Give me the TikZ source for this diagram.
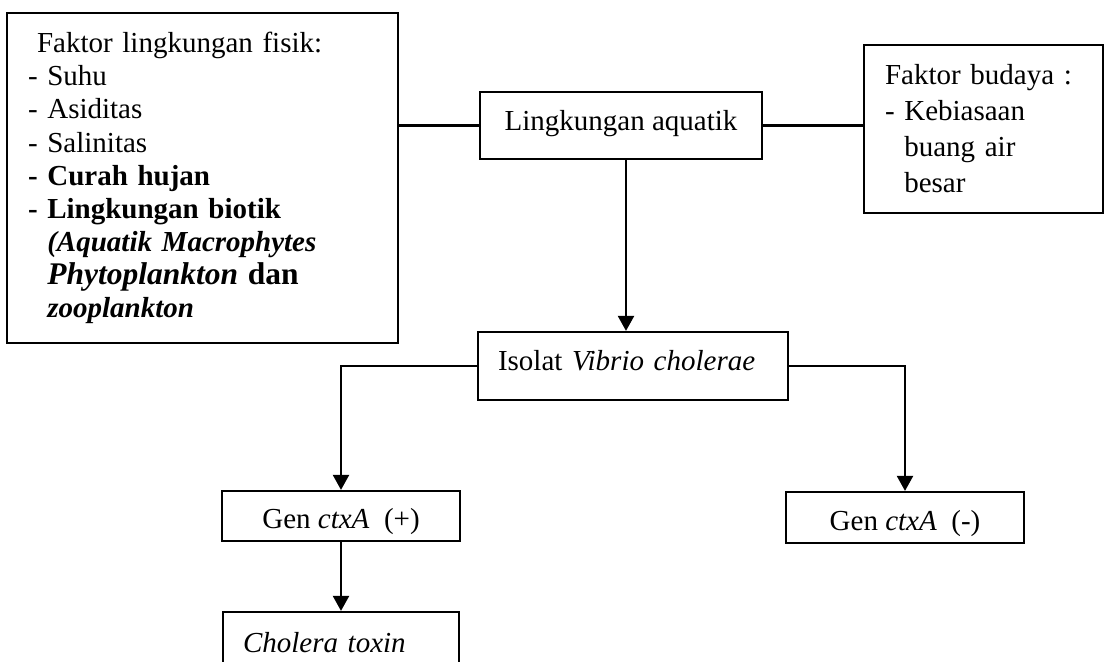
\documentclass[tikz,border=0pt]{standalone}
\usepackage{fontspec}
\setmainfont{Liberation Serif}
\usetikzlibrary{arrows.meta}
\begin{document}
\begin{tikzpicture}[x=1pt,y=-1pt,
  box/.style={draw, line width=2.2pt, inner sep=0pt},
  con/.style={line width=2.2pt},
  arr/.style={con, -{Triangle[width=16pt,length=15pt]}},
  txt/.style={font=\fontsize{29}{33}\selectfont}]
\useasboundingbox (0,0) rectangle (1105,661);
\clip (0,0) rectangle (1105,661);
\fill[white] (0,0) rectangle (1105,661);

\node[box, minimum width=391pt, minimum height=330pt, text width=349pt, align=left, inner xsep=21pt,
  font=\fontsize{29}{33.1}\selectfont] (fis) at (202.5,178)
 {\hspace*{9pt}Faktor lingkungan fisik:\\
  - Suhu\\
  - Asiditas\\
  - Salinitas\\
  \textbf{- Curah hujan}\\
  \textbf{- Lingkungan biotik}\\
  \hphantom{- }\textbf{\textit{(Aquatik Macrophytes}}\\
  \hphantom{- }{\fontsize{31.5}{33.1}\selectfont\textbf{\textit{Phytoplankton} dan}}\\
  \hphantom{- }\textbf{\textit{zooplankton}}};

\node[box, minimum width=239pt, minimum height=168pt, text width=197pt, align=left, inner xsep=21pt,
  font=\fontsize{29}{36}\selectfont] (bud) at (983.5,129)
 {Faktor budaya :\\
  - Kebiasaan\\
  \hphantom{- }buang air\\
  \hphantom{- }besar};

\node[box, txt, minimum width=282pt, minimum height=67pt, text height=20pt, text depth=11pt] (aq) at (621,125.5) {Lingkungan aquatik};
\node[box, txt, minimum width=310pt, minimum height=68pt, text width=270pt, inner xsep=20pt, align=left, text height=20pt, text depth=12pt] (iso) at (633,366) {Isolat \textit{Vibrio cholerae}};
\node[box, txt, minimum width=238pt, minimum height=50pt, text height=24pt, text depth=0pt] (genp) at (341,516) {Gen \textit{ctxA}\ \ (+)};
\node[box, txt, minimum width=238pt, minimum height=51pt, text height=25pt, text depth=0pt] (genm) at (905,517.5) {Gen \textit{ctxA}\ \ (-)};
\node[box, txt, minimum width=236pt, minimum height=80pt, text width=196pt, inner xsep=20pt, align=left, text height=15pt, text depth=15pt] (chol) at (341,652) {\textit{Cholera toxin}};

\coordinate (ax) at (626,0);
\draw[con] (fis.east |- aq.west) -- (aq.west);
\draw[con] (aq.east) -- (aq.east -| bud.west);
\draw[arr] (aq.south -| ax) -- (iso.north -| ax);
\draw[arr] (iso.west) -| (genp.north);
\draw[arr] (iso.east) -| (genm.north);
\draw[arr] (genp.south) -- (chol.north);
\end{tikzpicture}
\end{document}
